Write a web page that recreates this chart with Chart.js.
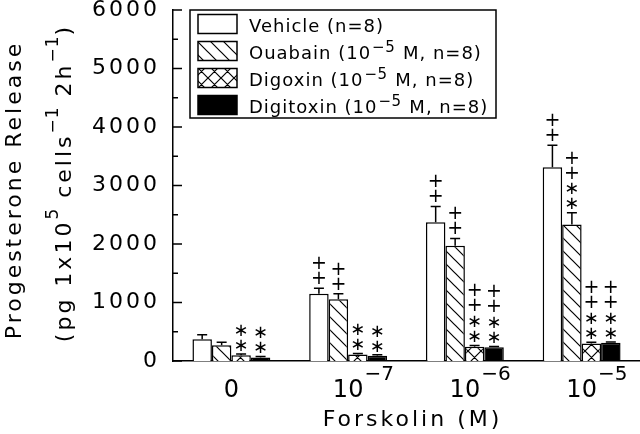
<!DOCTYPE html>
<html>
<head>
<meta charset="utf-8">
<script src="https://cdn.jsdelivr.net/npm/chart.js@4.4.0/dist/chart.umd.min.js"></script>
<style>
  html, body { margin: 0; padding: 0; background: #fff; }
</style>
</head>
<body>
<canvas id="chart" width="640" height="434"></canvas>
<script>
// data
const categories = ['0', '10', '10', '10'];
const categoryExponents = ['', '−7', '−6', '−5'];

const vehicle = [370, 1150, 2370, 3310];
const vehicleErr = [80, 95, 270, 380];
const ouabain = [270, 1055, 1970, 2335];
const ouabainErr = [50, 95, 125, 200];
const digoxin = [100, 110, 245, 300];
const digoxinErr = [20, 20, 20, 20];
const digitoxin = [60, 90, 235, 310];
const digitoxinErr = [15, 15, 15, 15];

// significance marks, listed top to bottom
const vehicleMarks = ['', '++', '++', '++'];
const ouabainMarks = ['', '++', '++', '++**'];
const digoxinMarks = ['**', '**', '++**', '++**'];
const digitoxinMarks = ['**', '**', '++**', '++**'];

const legendMain = ['Vehicle (n=8)', 'Ouabain (10', 'Digoxin (10', 'Digitoxin (10'];
const legendSup = ['', '−5', '−5', '−5'];
const legendTail = ['', ' M, n=8)', ' M, n=8)', ' M, n=8)'];

const yTitle = 'Progesterone Release';
const yUnitParts = ['(pg 1x10', '5', ' cells', '−1', ' 2h', '−1', ')']; // odd = superscript
const xTitle = 'Forskolin (M)';

const FONT = "'DejaVu Sans', sans-serif";

function makePattern(kind) {
  const s = 13;
  const c = document.createElement('canvas');
  c.width = s; c.height = s;
  const g = c.getContext('2d');
  g.fillStyle = '#fff';
  g.fillRect(0, 0, s, s);
  g.strokeStyle = '#000';
  g.lineWidth = 1.2;
  g.beginPath();
  g.moveTo(-1, -1); g.lineTo(s + 1, s + 1);
  g.moveTo(-1, s - 1); g.lineTo(1, s + 1);
  g.moveTo(s - 1, -1); g.lineTo(s + 1, 1);
  if (kind === 'cross') {
    g.moveTo(-1, s + 1); g.lineTo(s + 1, -1);
    g.moveTo(-1, 1); g.lineTo(1, -1);
    g.moveTo(s - 1, s + 1); g.lineTo(s + 1, s - 1);
  }
  g.stroke();
  return g.createPattern(c, 'repeat');
}

const fills = ['#fff', makePattern('diag'), makePattern('cross'), '#000'];
const errors = [vehicleErr, ouabainErr, digoxinErr, digitoxinErr];
const marks = [vehicleMarks, ouabainMarks, digoxinMarks, digitoxinMarks];

function text(ctx, str, x, y, size, align, spacing) {
  ctx.font = size + 'px ' + FONT;
  ctx.letterSpacing = (spacing || 0) + 'px';
  ctx.textAlign = align || 'left';
  ctx.fillText(str, x, y);
  return ctx.measureText(str).width;
}

const extras = {
  id: 'extras',
  beforeDraw(chart) {
    chart.ctx.letterSpacing = '3px';
  },
  afterDatasetsDraw(chart) {
    const ctx = chart.ctx;
    const y = chart.scales.y;
    ctx.save();
    ctx.strokeStyle = '#000';
    ctx.fillStyle = '#000';
    ctx.lineWidth = 1.5;
    chart.data.datasets.forEach((ds, i) => {
      chart.getDatasetMeta(i).data.forEach((bar, j) => {
        const top = y.getPixelForValue(ds.data[j] + errors[i][j]);
        ctx.beginPath();
        ctx.moveTo(bar.x, bar.y);
        ctx.lineTo(bar.x, top);
        ctx.moveTo(bar.x - 5, top);
        ctx.lineTo(bar.x + 5, top);
        ctx.stroke();
        const m = marks[i][j].split('').reverse();
        ctx.textBaseline = 'middle';
        m.forEach((ch, k) => {
          const cy = top - 9 - k * 15;
          if (ch === '+') text(ctx, '+', bar.x, cy, 19, 'center');
          else text(ctx, '∗', bar.x, cy + 1, 18, 'center');
        });
      });
    });
    ctx.restore();
  },
  afterDraw(chart) {
    const ctx = chart.ctx;
    const xs = chart.scales.x;
    const ys = chart.scales.y;
    const area = chart.chartArea;
    ctx.save();
    ctx.strokeStyle = '#000';
    ctx.fillStyle = '#000';
    ctx.lineWidth = 1.5;

    // inward ticks on y axis
    ctx.beginPath();
    for (let v = ys.min; v <= ys.max; v += 500) {
      const py = ys.getPixelForValue(v);
      ctx.moveTo(area.left, py);
      ctx.lineTo(area.left + (v % 1000 === 0 ? 9 : 5), py);
    }
    ctx.stroke();

    // x tick labels with exponents
    ctx.textBaseline = 'alphabetic';
    categories.forEach((c, i) => {
      const px = xs.getPixelForTick(i);
      const w = text(ctx, c, px, 397, 24, 'center');
      if (categoryExponents[i]) text(ctx, categoryExponents[i], px + w / 2 + 1, 380, 20, 'left');
    });

    // x title
    text(ctx, xTitle, (area.left + area.right) / 2 + 6, 426, 22, 'center', 3);

    // y titles (rotated)
    ctx.save();
    ctx.translate(21, 190);
    ctx.rotate(-Math.PI / 2);
    text(ctx, yTitle, 0, 0, 22, 'center', 3);
    ctx.restore();

    ctx.save();
    ctx.translate(71, 183);
    ctx.rotate(-Math.PI / 2);
    let total = 0;
    const widths = yUnitParts.map((p, k) => {
      ctx.font = (k % 2 ? 17 : 22) + 'px ' + FONT;
      ctx.letterSpacing = (k % 2 ? 1 : 3) + 'px';
      const w = ctx.measureText(p).width;
      total += w;
      return w;
    });
    let cx = -total / 2;
    yUnitParts.forEach((p, k) => {
      if (k % 2) text(ctx, p, cx, -13, 17, 'left', 1);
      else text(ctx, p, cx, 0, 22, 'left', 3);
      cx += widths[k];
    });
    ctx.restore();

    // legend
    ctx.lineWidth = 1.5;
    ctx.strokeRect(190, 10, 306, 108);
    ctx.textBaseline = 'middle';
    chart.data.datasets.forEach((ds, i) => {
      const cy = 24 + i * 27;
      ctx.fillStyle = fills[i];
      ctx.fillRect(198, cy - 9.5, 39, 19);
      ctx.strokeRect(198, cy - 9.5, 39, 19);
      ctx.fillStyle = '#000';
      let tx = 249;
      tx += text(ctx, legendMain[i], tx, cy + 3, 18, 'left', 1);
      if (legendSup[i]) {
        tx += text(ctx, legendSup[i], tx + 1, cy - 3, 15, 'left', 0.5) + 2;
        text(ctx, legendTail[i], tx, cy + 3, 18, 'left', 1);
      }
    });
    ctx.restore();
  }
};

new Chart(document.getElementById('chart'), {
  type: 'bar',
  data: {
    labels: categories.map((c, i) => c + categoryExponents[i]),
    datasets: [
      { label: 'Vehicle', data: vehicle },
      { label: 'Ouabain', data: ouabain },
      { label: 'Digoxin', data: digoxin },
      { label: 'Digitoxin', data: digitoxin },
    ].map((ds, i) => Object.assign(ds, {
      backgroundColor: fills[i],
      borderColor: '#000',
      borderWidth: 1.5,
      categoryPercentage: 0.667,
      barPercentage: 1,
    })),
  },
  options: {
    responsive: false,
    devicePixelRatio: 1,
    animation: false,
    layout: { padding: { top: 10, right: 0, left: 0, bottom: 0 } },
    plugins: { legend: { display: false }, tooltip: { enabled: false } },
    scales: {
      x: {
        offset: true,
        grid: { display: false },
        border: { display: true, color: '#000', width: 1.5 },
        ticks: { display: false },
        afterFit(scale) { scale.height = 73; scale.paddingLeft = 0; scale.paddingRight = 0; },
      },
      y: {
        min: 0,
        max: 6000,
        grid: { display: false, drawTicks: false },
        border: { display: true, color: '#000', width: 1.5 },
        ticks: {
          stepSize: 1000,
          padding: 13,
          color: '#000',
          font: { family: 'DejaVu Sans', size: 22 },
          callback: (v) => String(v),
        },
        afterFit(scale) { scale.width = 173; scale.paddingTop = 0; scale.paddingBottom = 0; },
      },
    },
  },
  plugins: [extras],
});
</script>
</body>
</html>
